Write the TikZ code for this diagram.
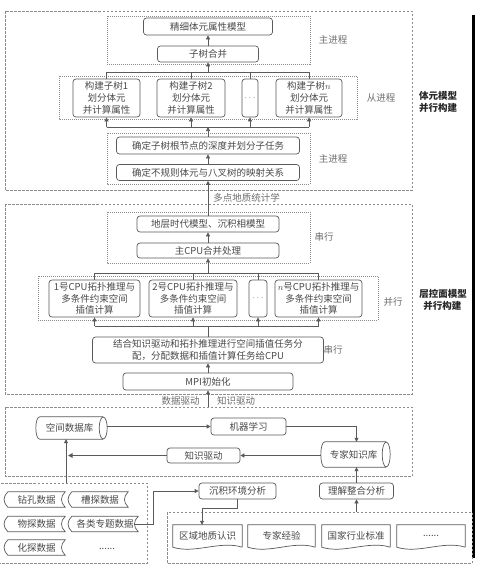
\documentclass[tikz,border=0pt]{standalone}
\usepackage{fontspec}
\setmainfont{Noto Sans CJK SC}
\usetikzlibrary{arrows.meta}
\definecolor{bd}{HTML}{5A5A5A}
\definecolor{tx}{HTML}{4A4A4A}
\definecolor{dl}{HTML}{8C8C8C}
\newcommand\fs{\fontsize{9.5}{11.8}\selectfont}
\begin{document}
\begin{tikzpicture}[x=1pt,y=-1pt,
  box/.style={draw=bd, line width=0.7pt, rounded corners=3pt, fill=white, text=tx, inner sep=0pt, align=center, font=\fs},
  lbl/.style={text=tx!80, inner sep=0pt, font=\fs},
  side/.style={text=black!85, inner sep=0pt, font=\fs\bfseries, align=left},
  tagn/.style={inner sep=0pt, text=tx, font=\fs},
  docn/.style={inner sep=0pt, text=tx, font=\fs},
  cyl/.style={inner sep=0pt, text=tx, font=\fs},
  ln/.style={draw=bd, line width=0.7pt},
  arr/.style={draw=bd, line width=0.7pt, -{Triangle[length=4pt,width=4pt]}},
  outer/.style={draw=dl, line width=0.7pt, dash pattern=on 2.5pt off 1.5pt},
  inner/.style={draw=dl, line width=0.6pt, dash pattern=on 1pt off 1pt}]
\useasboundingbox[fill=white] (0,0) rectangle (480,571);

% right black rule
\draw[line width=3pt, black] (473.5,15) -- (473.5,558);

% ---------- section 1 ----------
\draw[outer] (5,11) rectangle (412,190);
\draw[inner] (107,16) rectangle (310,64);
\draw[inner] (59,76) rectangle (357,119);
\draw[inner] (107,133) rectangle (310,184);

\node[box, minimum width=129pt, minimum height=17pt] (m1) at (208,26.5) {精细体元属性模型};
\node[box, minimum width=101pt, minimum height=16pt] (m2) at (208,54) {子树合并};
\node[box, minimum width=67pt, minimum height=38pt] (s1) at (106.5,98) {构建子树1\\划分体元\\并计算属性};
\node[box, minimum width=68pt, minimum height=38pt] (s2) at (191,98) {构建子树2\\划分体元\\并计算属性};
\node[box, minimum width=16pt, minimum height=38pt] (sd) at (250,98) {$\cdots$};
\node[box, minimum width=66pt, minimum height=38pt] (sn) at (309,98) {构建子树$n$\\划分体元\\并计算属性};
\node[box, minimum width=183pt, minimum height=17pt] (r1) at (208,145.5) {确定子树根节点的深度并划分子任务};
\node[box, minimum width=183pt, minimum height=16pt] (r2) at (208,172.5) {确定不规则体元与八叉树的映射关系};

\coordinate (h1) at (208,72);
\coordinate (h2) at (208,127);
\draw[arr] (m2.north) -- (m1.south);
\draw[ln] (s1.north) -- (s1.north |- h1) -- (sn.north |- h1) -- (sn.north);
\draw[ln] (s2.north) -- (s2.north |- h1);
\draw[ln] (sd.north) -- (sd.north |- h1);
\draw[arr] (h1) -- (m2.south);
\draw[ln] (s1.south |- h2) -- (sn.south |- h2);
\foreach \n in {s1,s2,sd,sn} \draw[arr] (\n.south |- h2) -- (\n.south);
\draw[arr] (r1.north) -- (h2);
\draw[arr] (r2.north) -- (r1.south);

\node[lbl] (p1) at (333,40) {主进程};
\node[lbl] (p2) at (381,98) {从进程};
\node[lbl] (p3) at (333,159) {主进程};
\node[side] (sl1) at (438,102) {体元模型\\并行构建};

% ---------- section 2 ----------
\draw[outer] (5,204) rectangle (412,394);
\draw[inner] (107,212) rectangle (310,263);
\draw[inner] (38,276) rectangle (378,320);

\node[box, minimum width=142pt, minimum height=16pt] (g1) at (208,224) {地层时代模型、沉积相模型};
\node[box, minimum width=142pt, minimum height=15pt] (g2) at (208,250.5) {主CPU合并处理};
\node[box, minimum width=91pt, minimum height=37pt] (c1) at (94.5,298.5) {1号CPU拓扑推理与\\多条件约束空间\\插值计算};
\node[box, minimum width=88pt, minimum height=37pt] (c2) at (193,298.5) {2号CPU拓扑推理与\\多条件约束空间\\插值计算};
\node[box, minimum width=18pt, minimum height=37pt] (cd) at (258,298.5) {$\cdots$};
\node[box, minimum width=87pt, minimum height=37pt] (cn) at (318.5,298.5) {$n$号CPU拓扑推理与\\多条件约束空间\\插值计算};
\node[box, minimum width=231pt, minimum height=26pt] (k1) at (208,350) {结合知识驱动和拓扑推理进行空间插值任务分\\配，分配数据和插值计算任务给CPU};
\node[box, minimum width=170pt, minimum height=17pt] (k2) at (208,381.5) {MPI初始化};

\draw[arr] (g1.north) -- (r2.south) node[lbl, pos=0.5, right=5pt] (mp) {多点地质统计学};
\draw[arr] (g2.north) -- (g1.south);
\coordinate (h3) at (208,273);
\coordinate (h4) at (208,326);
\draw[ln] (c1.north) -- (c1.north |- h3) -- (cn.north |- h3) -- (cn.north);
\draw[ln] (c2.north) -- (c2.north |- h3);
\draw[ln] (cd.north) -- (cd.north |- h3);
\draw[arr] (h3) -- (g2.south);
\draw[ln] (c1.south |- h4) -- (cn.south |- h4);
\foreach \n in {c1,c2,cd,cn} \draw[arr] (\n.south |- h4) -- (\n.south);
\draw[ln] (k1.north) -- (h4);
\draw[arr] (k2.north) -- (k1.south);

\node[lbl] (p4) at (324,237) {串行};
\node[lbl] (p5) at (393,302) {并行};
\node[lbl] (p6) at (333,350) {串行};
\node[side] (sl2) at (443,300) {层控面模型\\\hspace*{4pt}并行构建};

% ---------- section 3 ----------
\draw[outer] (5,407) rectangle (412,476);
\coordinate (o3) at (208,407);
\draw[arr] (o3) -- (k2.south);
\node[lbl] (dd) at (180.5,400.5) {数据驱动};
\node[lbl] (kd0) at (236,400.5) {知识驱动};

\node[cyl, minimum width=69pt, minimum height=22pt] (db) at (72.5,428) {空间数据库\hspace*{6pt}};
\draw[ln] ([xshift=-4pt]db.north east) -- ([xshift=2pt]db.north west)
  .. controls +(-5.3,0) and +(-5.3,0) .. ([xshift=2pt]db.south west) -- ([xshift=-4pt]db.south east);
\draw[ln] ([xshift=-4pt]db.east) ellipse [x radius=4, y radius=11];
\node[box, minimum width=75pt, minimum height=17pt] (ml) at (248.5,426.5) {机器学习};
\node[cyl, minimum width=67pt, minimum height=25pt] (kb) at (356.5,454.5) {专家知识库\hspace*{6pt}};
\draw[ln] ([xshift=-4pt]kb.north east) -- ([xshift=2pt]kb.north west)
  .. controls +(-5.3,0) and +(-5.3,0) .. ([xshift=2pt]kb.south west) -- ([xshift=-4pt]kb.south east);
\draw[ln] ([xshift=-4pt]kb.east) ellipse [x radius=4, y radius=12.5];
\node[box, minimum width=73pt, minimum height=15pt] (kd) at (203.5,455.5) {知识驱动};
\coordinate (kv) at (68,455.5);
\draw[arr] (db.east |- ml.west) -- (ml.west);
\draw[arr] (ml.east) -| (kb.north);
\draw[arr] ([xshift=-1.5pt]kb.west |- kd.east) -- (kd.east);
\draw[draw=bd, line width=1.2pt, -{Triangle[length=4.5pt,width=4.5pt]}] (kd.west) -- (kv);

% ---------- section 4 : data ----------
\draw[outer] (-2,483) rectangle (147,563);
\coordinate (dtop) at (66,483);
\draw[arr] (dtop) -- (dtop |- db.south);

\node[tagn, minimum width=57pt, minimum height=15pt] (t1) at (36.5,499.5) {钻孔数据};
\node[tagn, minimum width=56pt, minimum height=15pt] (t2) at (100,499.5) {槽探数据};
\node[tagn, minimum width=57pt, minimum height=15pt] (t3) at (36.5,524) {物探数据};
\node[tagn, minimum width=66pt, minimum height=15pt] (t4) at (105,524) {各类专题数据};
\node[tagn, minimum width=57pt, minimum height=15pt] (t5) at (36.5,547.5) {化探数据};
\node[tagn] (t6) at (107,549) {......};
\foreach \n in {t1,t2,t3,t4,t5}
  \draw[ln] (\n.north west) -- (\n.north east) .. controls +(-5,5) and +(-5,-5) .. (\n.south east)
    -- (\n.south west) .. controls +(-5,-5) and +(-5,5) .. (\n.north west);

% ---------- section 4 : knowledge ----------
\draw[outer] (167,512) rectangle (472,563);
\node[box, minimum width=77pt, minimum height=16pt] (ja) at (237.5,491) {沉积环境分析};
\node[box, minimum width=74pt, minimum height=16pt] (jb) at (356.5,491) {理解整合分析};

\node[docn, minimum width=69pt, minimum height=22pt] (d1) at (207.5,536) {区域地质认识};
\node[docn, minimum width=67pt, minimum height=22pt] (d2) at (281.5,536) {专家经验};
\node[docn, minimum width=68pt, minimum height=22pt] (d3) at (356,536) {国家行业标准};
\node[docn, minimum width=68pt, minimum height=22pt] (d4) at (431,536) {......};
\foreach \n in {d1,d2,d3,d4}
  \draw[ln] (\n.south east) -- (\n.north east) -- (\n.north west) -- (\n.south west)
    .. controls +(22,7) and +(-22,-7) .. (\n.south east);

\coordinate (e1) at (153,524);
\draw[arr] ([xshift=-3.75pt]t4.east) -- (e1) |- (ja.west);
\coordinate (e2) at (237.5,508);
\coordinate (e3) at (202,508);
\draw[arr] (ja.south) -- (e2) -- (e3) -- (e3 |- d1.north);
\coordinate (ktop) at (356.5,512);
\draw[arr] (ktop) -- (jb.south);
\draw[arr] (jb.north) -- (kb.south);
\end{tikzpicture}
\end{document}
